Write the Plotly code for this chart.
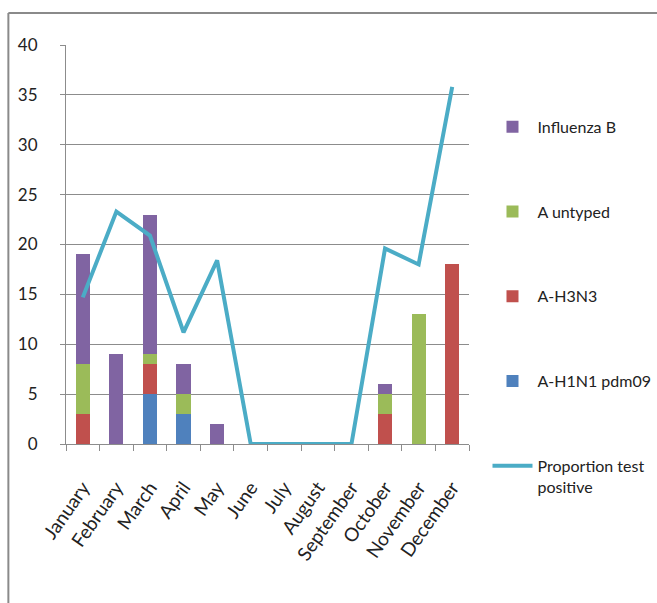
import plotly.graph_objects as go

months = ["January", "February", "March", "April", "May", "June", "July",
          "August", "September", "October", "November", "December"]

h1n1 = [0, 0, 5, 3, 0, 0, 0, 0, 0, 0, 0, 0]
h3n3 = [3, 0, 3, 0, 0, 0, 0, 0, 0, 3, 0, 18]
a_untyped = [5, 0, 1, 2, 0, 0, 0, 0, 0, 2, 13, 0]
influenza_b = [11, 9, 14, 3, 2, 0, 0, 0, 0, 1, 0, 0]
proportion_positive = [14.7, 23.3, 20.9, 11.2, 18.4, 0, 0, 0, 0, 19.6, 18.0, 35.8]

y_ticks = [0, 5, 10, 15, 20, 25, 30, 35, 40]

FONT = "Lato, Liberation Sans, sans-serif"
GRID = "#8c8c8c"

bar_series = [
    ("A-H1N1 pdm09", h1n1, "#4F81BD", 4),
    ("A-H3N3", h3n3, "#C0504D", 3),
    ("A untyped", a_untyped, "#9BBB59", 2),
    ("Influenza B", influenza_b, "#8064A2", 1),
]

fig = go.Figure()
for name, vals, color, rank in bar_series:
    fig.add_trace(go.Bar(
        x=months, y=vals, name=name, marker_color=color,
        marker_line_width=0, legendrank=rank, legendgroup=name,
    ))

fig.add_trace(go.Scatter(
    x=months, y=proportion_positive, mode="lines",
    name="Proportion test<br>positive",
    line=dict(color="#4BACC6", width=4),
    legendrank=5, legendgroup="prop",
))

# outer chart frame (top and left edges)
frame = dict(color="#8a8a8a", width=2)
fig.add_shape(type="line", xref="paper", yref="paper",
              x0=-0.143, x1=1.5, y0=1.08, y1=1.08, line=frame)
fig.add_shape(type="line", xref="paper", yref="paper",
              x0=-0.143, x1=-0.143, y0=1.08, y1=-0.5, line=frame)

fig.update_layout(
    width=657, height=603,
    margin=dict(l=66, r=188, t=45, b=159, autoexpand=False),
    paper_bgcolor="white", plot_bgcolor="white",
    barmode="stack", bargap=0.58,
    font=dict(family=FONT, size=17, color="#222222"),
    showlegend=True,
    legend=dict(
        xref="container", yref="container",
        x=0.742, xanchor="left", y=0.818, yanchor="top",
        tracegroupgap=61, font=dict(size=16, family=FONT),
        itemwidth=40, valign="top", bgcolor="rgba(0,0,0,0)",
        maxheight=560,
    ),
)

fig.update_yaxes(
    range=[0, 40], tickvals=y_ticks, ticks="outside", ticklen=5,
    tickcolor=GRID, showline=True, linecolor=GRID, linewidth=1,
    showgrid=True, gridcolor=GRID, gridwidth=1, zeroline=False,
    tickfont=dict(size=17, family=FONT), ticklabelstandoff=19,
)
fig.update_xaxes(
    type="category", tickangle=-55, ticks="outside", ticklen=6,
    tickson="boundaries", tickcolor=GRID, showline=True, linecolor=GRID,
    linewidth=1, showgrid=False, tickfont=dict(size=19, family=FONT),
    ticklabelstandoff=24,
)

fig.write_html("out.html")
